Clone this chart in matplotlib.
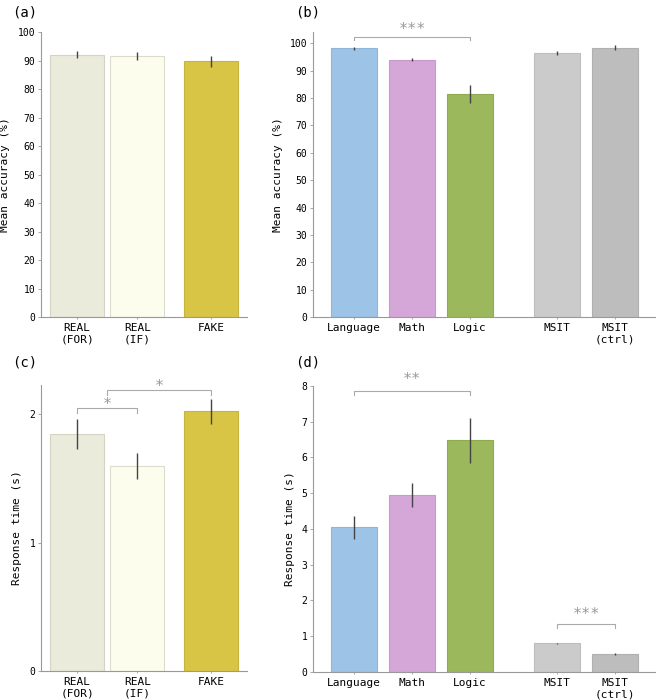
import numpy as np
import matplotlib
matplotlib.use("Agg")
import matplotlib.pyplot as plt

plt.rcParams['font.family'] = ['DejaVu Sans Mono']

# accuracy / RT for real vs fake conditionals
cond_labels = ["REAL\n(FOR)", "REAL\n(IF)", "FAKE"]
cond_acc = [92.1, 91.7, 89.8]
cond_acc_err = [1.3, 1.4, 1.9]
cond_rt = [1.847, 1.597, 2.024]
cond_rt_err = [0.118, 0.10, 0.095]
cond_colors = ["#ebebdc", "#fdfdee", "#d8c546"]
cond_edges = ["#d4d4c4", "#dcdccc", "#c8b43c"]

# accuracy / RT for tasks
task_labels = ["Language", "Math", "Logic", "MSIT", "MSIT\n(ctrl)"]
task_acc = [98.1, 94.0, 81.5, 96.4, 98.3]
task_acc_err = [0.5, 0.5, 3.3, 0.8, 0.9]
task_rt = [4.04, 4.94, 6.48, 0.795, 0.50]
task_rt_err = [0.32, 0.33, 0.63, 0.02, 0.02]
task_colors = ["#9dc3e6", "#d5a6d8", "#9bb85c", "#cbcbcb", "#bdbdbd"]
task_edges = ["#8fb6da", "#c899cc", "#8eab50", "#bebebe", "#b0b0b0"]

cond_pos = np.array([0, 1, 2.22])
task_pos = np.array([0, 1, 2, 3.5, 4.5])

fig = plt.figure(figsize=(6.56, 7.0), dpi=100)
ax_a = fig.add_axes([0.0625, 0.547, 0.314, 0.407])
ax_b = fig.add_axes([0.477, 0.547, 0.521, 0.407])
ax_c = fig.add_axes([0.0625, 0.042, 0.314, 0.408])
ax_d = fig.add_axes([0.477, 0.0404, 0.521, 0.4082])


def style_axis(ax):
    for s in ["top", "right"]:
        ax.spines[s].set_visible(False)
    for s in ["left", "bottom"]:
        ax.spines[s].set_color("#999999")
        ax.spines[s].set_linewidth(0.8)
    ax.tick_params(axis="y", length=2, width=0.6, color="#999999", labelsize=7, pad=2)
    ax.tick_params(axis="x", length=1.5, width=0.6, color="#999999", labelsize=8, pad=3)


def bracket(ax, x1, x2, y, tip, text, text_y, size=11):
    ax.plot([x1, x1, x2, x2], [y - tip, y, y, y - tip], color="#aaaaaa", lw=0.8,
            solid_joinstyle="round", clip_on=False)
    ax.text((x1 + x2) / 2, text_y, text, ha="center", va="center", color="#999999",
            fontsize=size, clip_on=False)


def draw_bars(ax, pos, vals, errs, colors, edges, width, labels):
    ax.bar(pos, vals, width=width, color=colors, edgecolor=edges, linewidth=0.8)
    ax.errorbar(pos, vals, yerr=errs, fmt="none", ecolor="#444444", elinewidth=1.0, capsize=0)
    ax.set_xticks(pos)
    ax.set_xticklabels(labels)
    style_axis(ax)


# (a)
draw_bars(ax_a, cond_pos, cond_acc, cond_acc_err, cond_colors, cond_edges, 0.9, cond_labels)
ax_a.set_xlim(-0.6, 2.82)
ax_a.set_ylim(0, 100)
ax_a.set_yticks(np.arange(0, 101, 10))
ax_a.set_ylabel("Mean accuracy (%)", fontsize=8)
ax_a.yaxis.set_label_coords(-0.15, 0.5)

# (b)
draw_bars(ax_b, task_pos, task_acc, task_acc_err, task_colors, task_edges, 0.8, task_labels)
ax_b.set_xlim(-0.71, 5.18)
ax_b.set_ylim(0, 104)
ax_b.set_yticks(np.arange(0, 101, 10))
ax_b.set_ylabel("Mean accuracy (%)", fontsize=8)
ax_b.yaxis.set_label_coords(-0.088, 0.5)
bracket(ax_b, task_pos[0], task_pos[2], 102.3, 1.2, "***", 104.9)

# (c)
draw_bars(ax_c, cond_pos, cond_rt, cond_rt_err, cond_colors, cond_edges, 0.9, cond_labels)
ax_c.set_xlim(-0.6, 2.82)
ax_c.set_ylim(0, 2.23)
ax_c.set_yticks([0, 1, 2])
ax_c.set_ylabel("Response time (s)", fontsize=8)
ax_c.yaxis.set_label_coords(-0.092, 0.5)
bracket(ax_c, cond_pos[0], cond_pos[1], 2.05, 0.04, "*", 2.075)
bracket(ax_c, (cond_pos[0] + cond_pos[1]) / 2, cond_pos[2], 2.19, 0.035, "*", 2.215)

# (d)
draw_bars(ax_d, task_pos, task_rt, task_rt_err, task_colors, task_edges, 0.8, task_labels)
ax_d.set_xlim(-0.71, 5.18)
ax_d.set_ylim(0, 8)
ax_d.set_yticks(np.arange(0, 9, 1))
ax_d.set_ylabel("Response time (s)", fontsize=8)
ax_d.yaxis.set_label_coords(-0.053, 0.5)
bracket(ax_d, task_pos[0], task_pos[2], 7.87, 0.12, "**", 8.17)
bracket(ax_d, task_pos[3], task_pos[4], 1.34, 0.12, "***", 1.6)

# panel letters
fig.text(0.018, 0.982, "(a)", fontsize=10, va="center")
fig.text(0.45, 0.982, "(b)", fontsize=10, va="center")
fig.text(0.018, 0.482, "(c)", fontsize=10, va="center")
fig.text(0.45, 0.482, "(d)", fontsize=10, va="center")

plt.savefig("out.png", dpi=100)
